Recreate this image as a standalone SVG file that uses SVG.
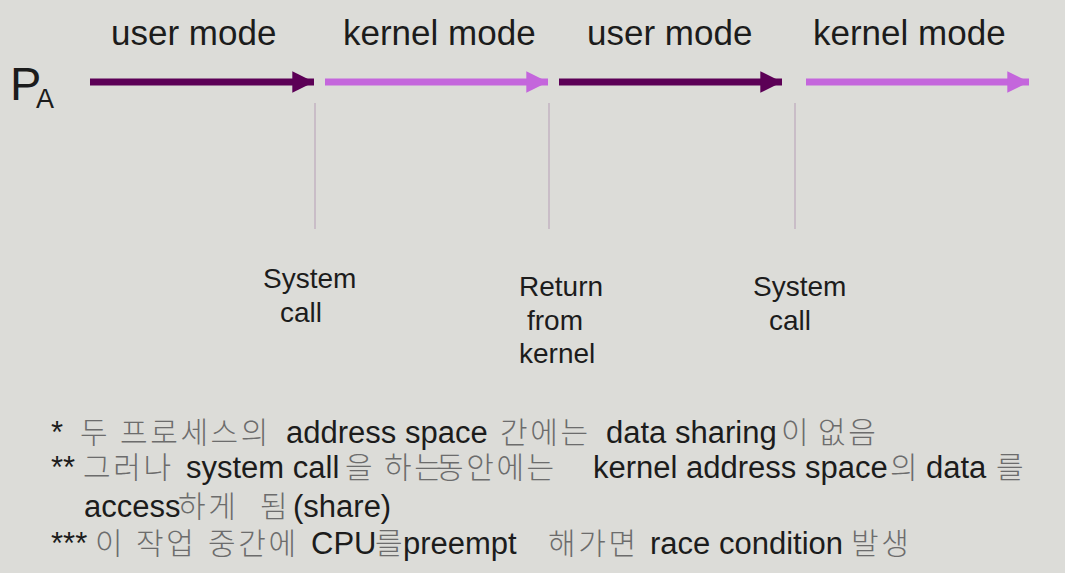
<svg xmlns="http://www.w3.org/2000/svg" width="1065" height="573" viewBox="0 0 1065 573">
<style>
.t{font-family:"Liberation Sans",Arial,"Noto Sans CJK KR",sans-serif;fill:#1c1c1c}
.m{font-size:35px}
.l{font-size:28px}
.b{font-size:31px}
.k{font-family:"Noto Sans CJK KR",sans-serif;fill:#6c6c6c;font-weight:300;font-size:30px;letter-spacing:2.6px}
.u{stroke:#5c0056;stroke-width:7}
.kk{stroke:#c466dc;stroke-width:7}
.v{stroke:#bca8bc;stroke-width:1.2}
</style>
<defs>
<marker id="hu" viewBox="0 0 10 10" refX="10" refY="5" markerWidth="3.1" markerHeight="3.1" markerUnits="strokeWidth" orient="auto"><path d="M0,0 L10,5 L0,10 z" fill="#5c0056"/></marker>
<marker id="hk" viewBox="0 0 10 10" refX="10" refY="5" markerWidth="3.1" markerHeight="3.1" markerUnits="strokeWidth" orient="auto"><path d="M0,0 L10,5 L0,10 z" fill="#c466dc"/></marker>
</defs>
<rect width="1065" height="573" fill="#dcdcd8"/>
<g id="labels-top">
<text class="t m" x="111" y="45">user mode</text>
<text class="t m" x="343" y="45">kernel mode</text>
<text class="t m" x="587" y="45">user mode</text>
<text class="t m" x="813" y="45">kernel mode</text>
</g>
<g id="process">
<text class="t" x="10" y="100" font-size="47">P</text>
<text class="t" x="36" y="108" font-size="27">A</text>
</g>
<g id="connectors">
<line class="u" x1="90" y1="82" x2="314" y2="82" marker-end="url(#hu)"/>
<line class="kk" x1="325" y1="82" x2="548" y2="82" marker-end="url(#hk)"/>
<line class="u" x1="559" y1="82" x2="782" y2="82" marker-end="url(#hu)"/>
<line class="kk" x1="806" y1="82" x2="1029" y2="82" marker-end="url(#hk)"/>
<line class="v" x1="315" y1="103" x2="315" y2="229"/>
<line class="v" x1="549" y1="103" x2="549" y2="229"/>
<line class="v" x1="795" y1="103" x2="795" y2="229"/>
</g>
<g id="syscall1">
<text class="t l" x="263" y="288">System</text>
<text class="t l" x="280" y="322">call</text>
</g>
<g id="return">
<text class="t l" x="519" y="296">Return</text>
<text class="t l" x="527" y="330">from</text>
<text class="t l" x="519" y="363">kernel</text>
</g>
<g id="syscall2">
<text class="t l" x="753" y="296">System</text>
<text class="t l" x="769" y="330">call</text>
</g>
<g id="notes">
<text class="t b" y="443"><tspan x="51">*</tspan><tspan class="k" x="80">두</tspan><tspan class="k" x="120">프로세스의</tspan><tspan x="286">address space</tspan><tspan class="k" x="500">간에는</tspan><tspan x="606">data sharing</tspan><tspan class="k" x="781">이</tspan><tspan class="k" x="818">없음</tspan></text>
<text class="t b" y="478"><tspan x="51">**</tspan><tspan class="k" x="83">그러나</tspan><tspan x="186">system call</tspan><tspan class="k" x="345">을</tspan><tspan class="k" x="384">하는</tspan><tspan class="k" x="436">동안에는</tspan><tspan x="593">kernel address space</tspan><tspan class="k" x="890">의</tspan><tspan x="926">data</tspan><tspan class="k" x="996">를</tspan></text>
<text class="t b" y="517"><tspan x="84">access</tspan><tspan class="k" x="178">하게</tspan><tspan class="k" x="260">됨</tspan><tspan x="293">(share)</tspan></text>
<text class="t b" y="554"><tspan x="51">***</tspan><tspan class="k" x="95">이</tspan><tspan class="k" x="136">작업</tspan><tspan class="k" x="208">중간에</tspan><tspan x="311">CPU</tspan><tspan class="k" x="375">를</tspan><tspan x="403">preempt</tspan><tspan class="k" x="548">해가면</tspan><tspan x="650">race condition</tspan><tspan class="k" x="851">발생</tspan></text>
</g>
</svg>
